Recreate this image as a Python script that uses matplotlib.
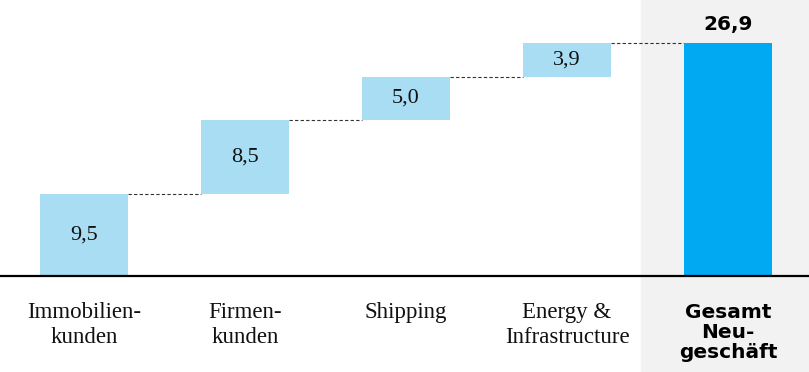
import matplotlib
matplotlib.use("Agg")
from matplotlib import pyplot as plt

categories = ["Immobilien-\nkunden", "Firmen-\nkunden", "Shipping", "Energy &\nInfrastructure"]
values = [9.5, 8.5, 5.0, 3.9]
value_labels = ["9,5", "8,5", "5,0", "3,9"]
total_label = "Gesamt\nNeu-\ngeschäft"
total_value = 26.9
total_value_label = "26,9"

light_blue = "#a8ddf3"
total_blue = "#00a9f1"
panel_grey = "#f2f2f2"

fig = plt.figure(figsize=(8.09, 3.72), dpi=100)
ax = fig.add_axes([0, 0, 1, 1])

width = 0.547
ax.set_xlim(-0.522, 4.503)
ax.set_ylim(-11.09, 31.87)

# grey panel behind the total
ax.axvspan(3.46, 4.6, color=panel_grey, zorder=0)

bottoms = []
running = 0
for v in values:
    bottoms.append(running)
    running += v

xs = list(range(len(values)))
ax.bar(xs, values, bottom=bottoms, width=width, color=light_blue, zorder=2)
ax.bar(len(values), total_value, width=width, color=total_blue, zorder=2)

# dashed connectors
tops = [b + v for b, v in zip(bottoms, values)]
for i, top in enumerate(tops):
    ax.plot([i + width / 2, i + 1 - width / 2], [top, top], color="#333333",
            lw=0.8, ls=(0, (3, 2)), zorder=1)

for i, (b, v, lab) in enumerate(zip(bottoms, values, value_labels)):
    ax.text(i, b + v / 2, lab, ha="center", va="center", fontsize=16,
            family="Liberation Serif", color="#111111", zorder=3)

ax.text(len(values), total_value + 1.0, total_value_label, ha="center", va="bottom",
        fontsize=14.5, fontweight="heavy", family="DejaVu Sans", color="black")

for i, cat in enumerate(categories):
    ax.text(i, -3.0, cat, ha="center", va="top", fontsize=16.5,
            family="Liberation Serif", color="#111111", linespacing=1.25)

ax.text(len(values), -3.1, total_label, ha="center", va="top", fontsize=14.5,
        fontweight="heavy", family="DejaVu Sans", color="black", linespacing=1.08)

ax.axhline(0, color="black", lw=1.6, zorder=4)
ax.axis("off")

fig.savefig("out.png", dpi=100)
